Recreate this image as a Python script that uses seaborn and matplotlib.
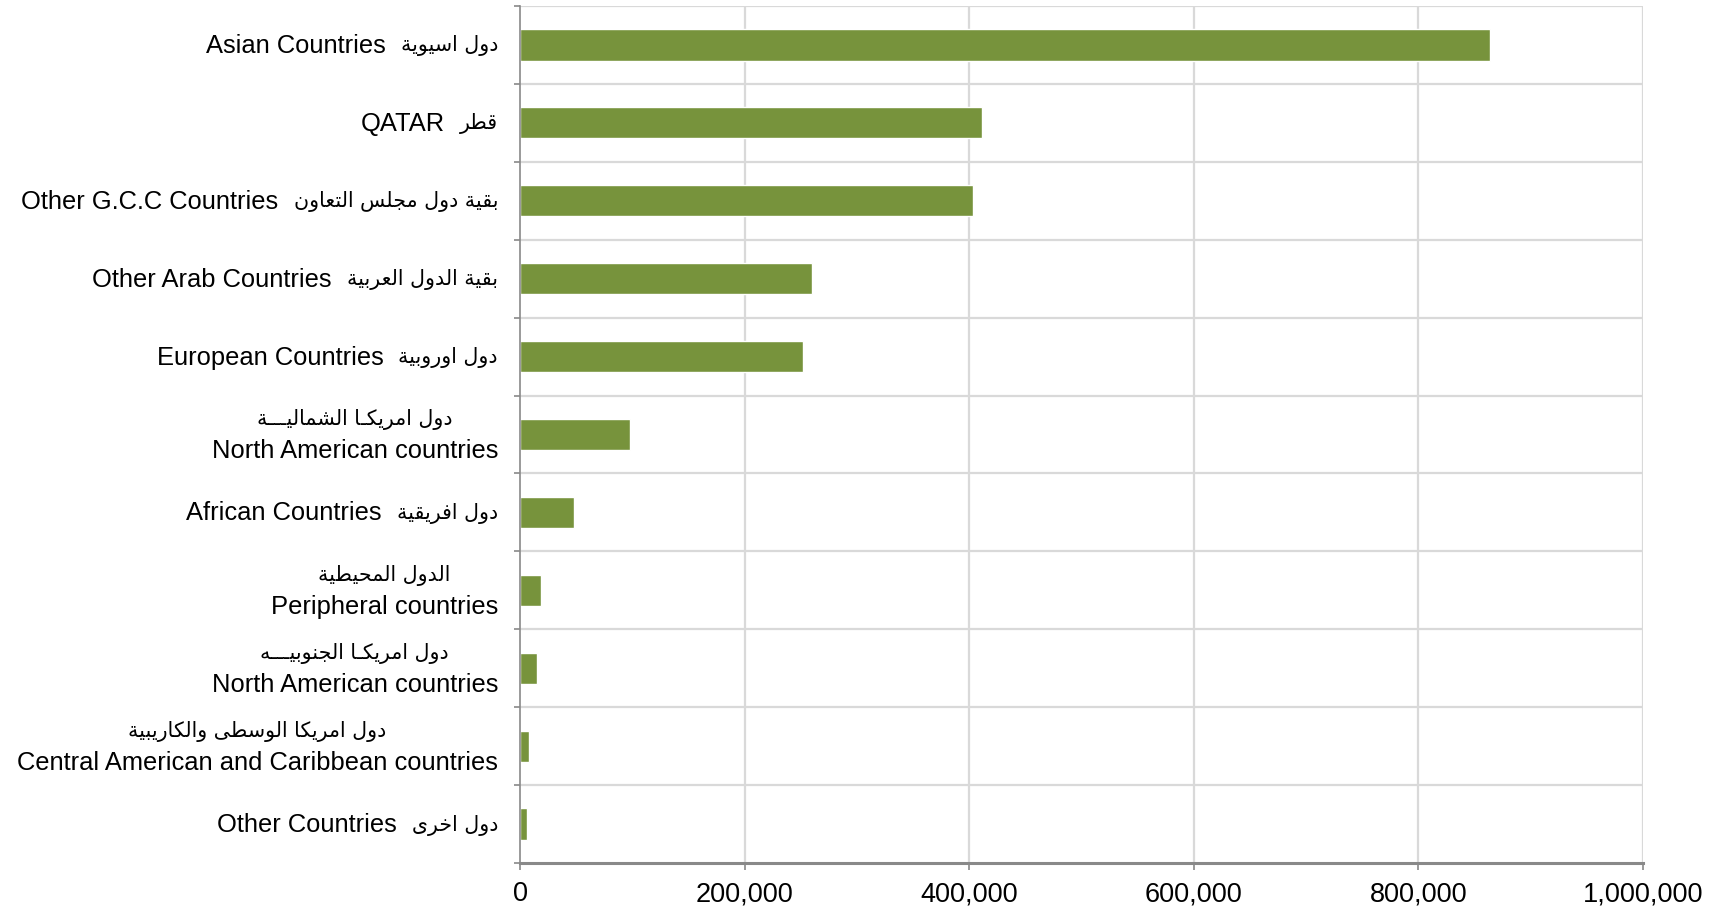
import seaborn as sns
import pandas as pd
from matplotlib import pyplot as plt
from matplotlib.ticker import FuncFormatter, MultipleLocator

ENGLISH = ['Asian Countries', 'QATAR', 'Other G.C.C Countries', 'Other Arab Countries',
           'European Countries', 'North American countries', 'African Countries',
           'Peripheral countries', 'North American countries',
           'Central American and Caribbean countries', 'Other Countries']
ARABIC = ['دول اسيوية', 'قطر', 'بقية دول مجلس التعاون', 'بقية الدول العربية',
          'دول اوروبية', 'دول امريكـا الشماليـــة', 'دول افريقية',
          'الدول المحيطية', 'دول امريكـا الجنوبيـــه',
          'دول امريكا الوسطى والكاريبية', 'دول اخرى']
TWO_LINES = [False, False, False, False, False, True, False, True, True, True, False]
VALUES = [864000, 411000, 403000, 260000, 252000, 98000, 48000, 18500, 15500, 8000, 6000]

BAR_COLOR = '#77933C'
GRID_COLOR = '#d9d9d9'
AXIS_COLOR = '#898989'

# Arabic presentation forms: isolated, final, initial, medial
FORMS = {
    'ا': ('\uFE8D', '\uFE8E', None, None), 'ب': ('\uFE8F', '\uFE90', '\uFE91', '\uFE92'),
    'ة': ('\uFE93', '\uFE94', None, None), 'ت': ('\uFE95', '\uFE96', '\uFE97', '\uFE98'),
    'ج': ('\uFE9D', '\uFE9E', '\uFE9F', '\uFEA0'), 'ح': ('\uFEA1', '\uFEA2', '\uFEA3', '\uFEA4'),
    'خ': ('\uFEA5', '\uFEA6', '\uFEA7', '\uFEA8'), 'د': ('\uFEA9', '\uFEAA', None, None),
    'ر': ('\uFEAD', '\uFEAE', None, None), 'س': ('\uFEB1', '\uFEB2', '\uFEB3', '\uFEB4'),
    'ش': ('\uFEB5', '\uFEB6', '\uFEB7', '\uFEB8'), 'ط': ('\uFEC1', '\uFEC2', '\uFEC3', '\uFEC4'),
    'ع': ('\uFEC9', '\uFECA', '\uFECB', '\uFECC'), 'ف': ('\uFED1', '\uFED2', '\uFED3', '\uFED4'),
    'ق': ('\uFED5', '\uFED6', '\uFED7', '\uFED8'), 'ك': ('\uFED9', '\uFEDA', '\uFEDB', '\uFEDC'),
    'ل': ('\uFEDD', '\uFEDE', '\uFEDF', '\uFEE0'), 'م': ('\uFEE1', '\uFEE2', '\uFEE3', '\uFEE4'),
    'ن': ('\uFEE5', '\uFEE6', '\uFEE7', '\uFEE8'), 'ه': ('\uFEE9', '\uFEEA', '\uFEEB', '\uFEEC'),
    'و': ('\uFEED', '\uFEEE', None, None), 'ى': ('\uFEEF', '\uFEF0', None, None),
    'ي': ('\uFEF1', '\uFEF2', '\uFEF3', '\uFEF4'), 'ـ': ('ـ', 'ـ', 'ـ', 'ـ'),
}


def joins_left(c):
    return c in FORMS and FORMS[c][2] is not None


def shape(text):
    # join letters and return them in visual (left to right) order
    out = []
    i = 0
    while i < len(text):
        c = text[i]
        if c not in FORMS:
            out.append(c)
            i += 1
            continue
        prev = text[i - 1] if i > 0 else ' '
        nxt = text[i + 1] if i + 1 < len(text) else ' '
        con_prev = joins_left(prev)
        if c == 'ل' and nxt == 'ا':
            out.append('\uFEFC' if con_prev else '\uFEFB')
            i += 2
            continue
        con_next = joins_left(c) and nxt in FORMS
        iso, fin, ini, med = FORMS[c]
        if con_prev and con_next:
            out.append(med)
        elif con_prev:
            out.append(fin)
        elif con_next:
            out.append(ini)
        else:
            out.append(iso)
        i += 1
    return ''.join(reversed(out))


df = pd.DataFrame({'label': ENGLISH, 'value': VALUES, 'pos': range(len(VALUES))})

sns.set_style('white')
plt.rcParams['font.family'] = ['Liberation Sans', 'DejaVu Sans']
plt.rcParams['text.color'] = 'black'

fig = plt.figure(figsize=(17.09, 9.07), dpi=100)
ax = fig.add_axes([520 / 1709, 44 / 907, 1123 / 1709, 857 / 907])

sns.barplot(data=df, x='value', y='pos', orient='h', color=BAR_COLOR,
            width=0.4, saturation=1, ax=ax, zorder=3)

n = len(VALUES)
ax.set_xlim(0, 1000000)
ax.set_ylim(n - 0.5, -0.5)
ax.xaxis.set_major_locator(MultipleLocator(200000))
ax.xaxis.set_major_formatter(FuncFormatter(lambda v, p: f'{int(v):,}'))
ax.set_xlabel('')
ax.set_ylabel('')
ax.set_yticks(range(n))
ax.set_yticklabels([])

# gridlines: vertical at value ticks, horizontal at category boundaries
for v in range(200000, 1000001, 200000):
    ax.axvline(v, color=GRID_COLOR, lw=1.6, zorder=1)
for b in range(n):
    ax.axhline(b - 0.5, color=GRID_COLOR, lw=1.6, zorder=1)

for s in ['top', 'right']:
    ax.spines[s].set_visible(False)
ax.spines['left'].set_color(AXIS_COLOR)
ax.spines['left'].set_linewidth(1.2)
ax.spines['bottom'].set_color(AXIS_COLOR)
ax.spines['bottom'].set_linewidth(2.2)
ax.spines['left'].set_zorder(4)
ax.spines['bottom'].set_zorder(4)

ax.set_yticks([b + 0.5 for b in range(-1, n)], minor=True)
ax.tick_params(axis='y', which='major', length=0)
ax.tick_params(axis='y', which='minor', length=4, width=1.2, color=AXIS_COLOR, direction='out', left=True)
ax.tick_params(axis='x', which='major', length=5, width=1.2, color=AXIS_COLOR, direction='out',
               bottom=True, pad=8, labelsize=19.5, labelcolor='black')

# category labels: English in Liberation Sans, Arabic in DejaVu Sans (smaller)
RIGHT = -22
EN_SIZE = 18.4
AR_SIZE = 14.8
tr = ('axes fraction', 'data')
fig.canvas.draw()
renderer = fig.canvas.get_renderer()
for i, (en, ar, two) in enumerate(zip(ENGLISH, ARABIC, TWO_LINES)):
    if two:
        t_en = ax.annotate(en, xy=(0, i), xycoords=tr, xytext=(RIGHT, -17),
                           textcoords='offset pixels', ha='right', va='center',
                           fontsize=EN_SIZE, color='black')
        w = t_en.get_window_extent(renderer).width
        ax.annotate(shape(ar), xy=(0, i), xycoords=tr, xytext=(RIGHT - w / 2, 15),
                    textcoords='offset pixels', ha='center', va='center',
                    fontsize=AR_SIZE, family='DejaVu Sans', color='black')
    else:
        t_ar = ax.annotate(shape(ar), xy=(0, i), xycoords=tr, xytext=(RIGHT, -1),
                           textcoords='offset pixels', ha='right', va='center',
                           fontsize=AR_SIZE, family='DejaVu Sans', color='black')
        w = t_ar.get_window_extent(renderer).width
        ax.annotate(en, xy=(0, i), xycoords=tr, xytext=(RIGHT - w - 15, -1),
                    textcoords='offset pixels', ha='right', va='center',
                    fontsize=EN_SIZE, color='black')

fig.savefig('out.png', dpi=100)
